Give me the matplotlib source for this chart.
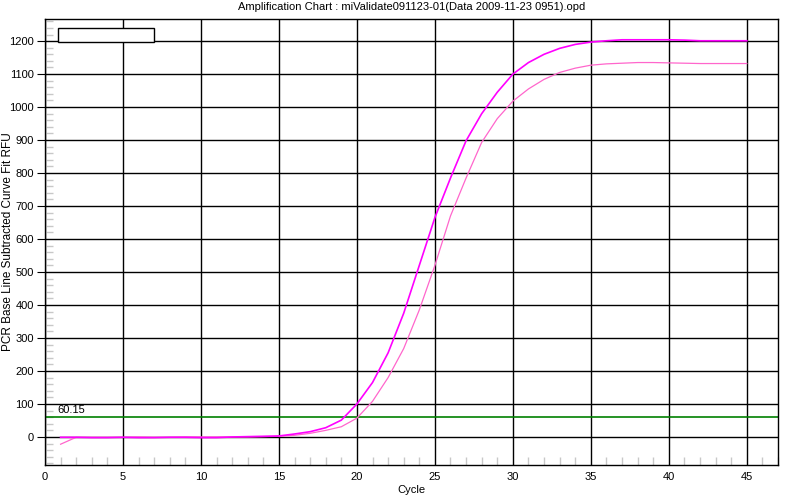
import numpy as np
import matplotlib
matplotlib.use("Agg")
import matplotlib.pyplot as plt
from matplotlib.patches import Rectangle
from matplotlib.ticker import MultipleLocator

# --- données ---
cycles = np.arange(1, 46)

well_a = [-1, -1, -2, -2, -1, -2, -2, -1, -1, -2,
          -2, 0, 1, 2, 3, 9, 16, 28, 51, 100,
          165, 255, 375, 520, 665, 785, 898, 980, 1045, 1100,
          1135, 1160, 1178, 1190, 1197, 1201, 1204, 1204, 1204, 1204,
          1203, 1201, 1201, 1201, 1201]

well_b = [-22, -1, -1, -1, -1, 0, -1, -1, 0, 0,
          0, 0, 0, 1, 2, 5, 11, 20, 31, 57,
          108, 180, 268, 385, 520, 670, 785, 893, 965, 1018,
          1055, 1084, 1105, 1118, 1127, 1131, 1133, 1135, 1135, 1134,
          1133, 1132, 1132, 1132, 1132]

threshold = 60.15
title = "Amplification Chart : miValidate091123-01(Data 2009-11-23 0951).opd"

plt.rcParams['font.family'] = ['Liberation Sans', 'DejaVu Sans']

fig = plt.figure(figsize=(8, 5), dpi=100)
ax = fig.add_axes([0.05625, 0.07, 0.91625, 0.892])

ax.plot(cycles, well_b, color='#ff66cc', lw=0.9, zorder=3)
ax.plot(cycles, well_a, color='#ff00ff', lw=1.2, zorder=4)
ax.axhline(threshold, color='#008000', lw=1.2, zorder=2)
ax.text(0.8, threshold + 5, "%.2f" % threshold, fontsize=8, va='bottom', ha='left')

ax.set_xlim(0, 47)
ax.set_ylim(-85, 1267)
ax.xaxis.set_major_locator(MultipleLocator(5))
ax.xaxis.set_minor_locator(MultipleLocator(1))
ax.yaxis.set_major_locator(MultipleLocator(100))
ax.yaxis.set_minor_locator(MultipleLocator(20))

ax.grid(True, which='major', color='black', lw=1.0, zorder=1)
ax.set_axisbelow(True)
for s in ax.spines.values():
    s.set_color('black')
    s.set_linewidth(1.0)

ax.tick_params(axis='both', which='major', labelsize=8, color='black')
ax.tick_params(axis='x', which='major', length=0, pad=5)
ax.tick_params(axis='y', which='major', direction='out', length=6, pad=2)
ax.tick_params(axis='both', which='minor', direction='in', length=6, color='#c8c8c8', width=1)

ax.set_xlabel("Cycle", fontsize=8, labelpad=2)
ax.set_ylabel("PCR Base Line Subtracted Curve Fit RFU", fontsize=8.5)
ax.yaxis.set_label_coords(-0.042, 0.5)
fig.text(0.515, 0.985, title, fontsize=8, ha='center', va='center')

# cadre de légende vide
fig.patches.append(Rectangle((58 / 800, 1 - 42 / 500), 96 / 800, 14 / 500,
                             transform=fig.transFigure, facecolor='white',
                             edgecolor='black', lw=1.0, zorder=10))

fig.savefig("out.png", dpi=100)
